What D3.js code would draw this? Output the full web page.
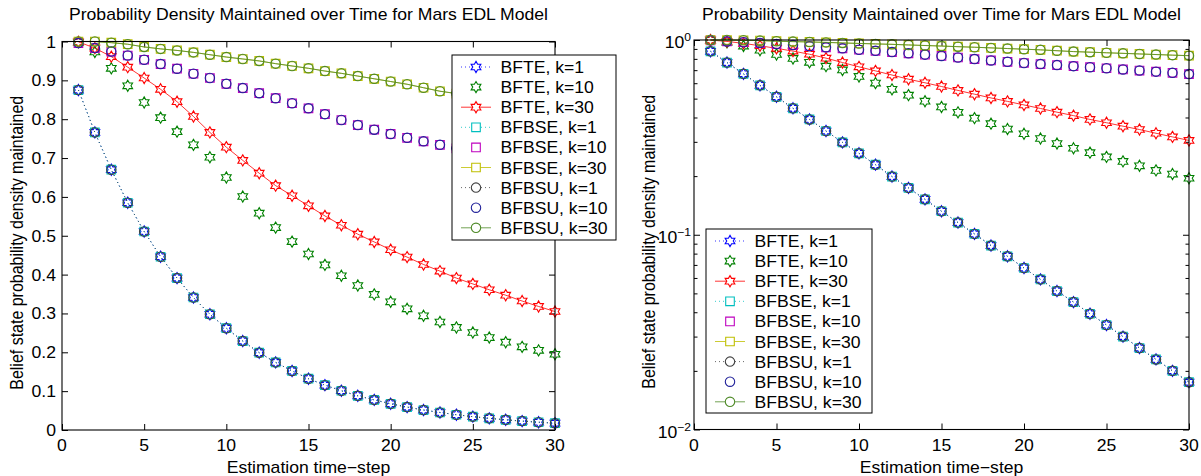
<!DOCTYPE html>
<html><head><meta charset="utf-8">
<script src="https://cdn.jsdelivr.net/npm/d3@7"></script>
<style>
body{margin:0;background:#fff}
svg{display:block}
text{font-family:"Liberation Sans",Arial,Helvetica,sans-serif;fill:#000}
</style>
</head><body>
<svg id="c" width="1201" height="476"></svg>
<script>
// ---------------- data ----------------
const steps = [1,2,3,4,5,6,7,8,9,10,11,12,13,14,15,16,17,18,19,20,21,22,23,24,25,26,27,28,29,30];

const bfteK1  = [0.875,0.766,0.670,0.585,0.511,0.446,0.391,0.341,0.298,0.262,0.229,0.199,0.174,0.152,0.132,0.1155,0.101,0.088,0.0775,0.0675,0.059,0.0514,0.0451,0.0393,0.0344,0.0300,0.0262,0.0229,0.0200,0.0175];
const bfteK10 = [0.998,0.973,0.931,0.886,0.843,0.804,0.768,0.734,0.702,0.650,0.601,0.558,0.521,0.485,0.453,0.425,0.397,0.372,0.349,0.330,0.312,0.294,0.278,0.264,0.251,0.238,0.226,0.214,0.205,0.195];
const bfteK30 = [0.999,0.983,0.961,0.934,0.906,0.877,0.845,0.807,0.766,0.728,0.694,0.661,0.629,0.603,0.577,0.551,0.527,0.504,0.484,0.464,0.445,0.426,0.409,0.391,0.376,0.361,0.347,0.332,0.318,0.305];

const bfbseK1  = [0.875,0.766,0.670,0.585,0.511,0.446,0.391,0.341,0.298,0.262,0.229,0.199,0.174,0.152,0.132,0.1155,0.101,0.088,0.0775,0.0675,0.059,0.0514,0.0451,0.0393,0.0344,0.0300,0.0262,0.0229,0.0200,0.0175];
const bfbseK10 = [0.996,0.983,0.974,0.964,0.953,0.942,0.930,0.917,0.906,0.891,0.880,0.867,0.854,0.841,0.828,0.813,0.798,0.785,0.773,0.762,0.752,0.743,0.734,0.725,0.716,0.706,0.697,0.688,0.678,0.668];
const bfbseK30 = [1.000,1.000,0.997,0.993,0.986,0.981,0.977,0.972,0.966,0.960,0.955,0.950,0.943,0.937,0.931,0.924,0.918,0.911,0.904,0.897,0.890,0.881,0.872,0.866,0.860,0.854,0.848,0.842,0.836,0.831];

const bfbsuK1  = [0.875,0.766,0.670,0.585,0.511,0.446,0.391,0.341,0.298,0.262,0.229,0.199,0.174,0.152,0.132,0.1155,0.101,0.088,0.0775,0.0675,0.059,0.0514,0.0451,0.0393,0.0344,0.0300,0.0262,0.0229,0.0200,0.0175];
const bfbsuK10 = [0.996,0.983,0.974,0.964,0.953,0.942,0.930,0.917,0.906,0.891,0.880,0.867,0.854,0.841,0.828,0.813,0.798,0.785,0.773,0.762,0.752,0.743,0.734,0.725,0.716,0.706,0.697,0.688,0.678,0.668];
const bfbsuK30 = [1.000,1.000,0.997,0.993,0.986,0.981,0.977,0.972,0.966,0.960,0.955,0.950,0.943,0.937,0.931,0.924,0.918,0.911,0.904,0.897,0.890,0.881,0.872,0.866,0.860,0.854,0.848,0.842,0.836,0.831];

const seriesLabels = ["BFTE, k=1","BFTE, k=10","BFTE, k=30","BFBSE, k=1","BFBSE, k=10","BFBSE, k=30","BFBSU, k=1","BFBSU, k=10","BFBSU, k=30"];
const xTicks = [0,5,10,15,20,25,30];
const xTickLabels = ["0","5","10","15","20","25","30"];
const yTicksLin = [0,0.1,0.2,0.3,0.4,0.5,0.6,0.7,0.8,0.9,1];
const yTickLabelsLin = ["0","0.1","0.2","0.3","0.4","0.5","0.6","0.7","0.8","0.9","1"];
const yTicksLog = [0.01,0.1,1];
const yTickExpLog = ["\u22122","\u22121","0"];
const yMinorLog = [0.02,0.03,0.04,0.05,0.06,0.07,0.08,0.09,0.2,0.3,0.4,0.5,0.6,0.7,0.8,0.9];
const titleText = "Probability Density Maintained over Time for Mars EDL Model";
const xLabelText = "Estimation time\u2212step";
const yLabelText = "Belief state probability density maintained";

// ---------------- styles ----------------
const seriesValues = [bfteK1,bfteK10,bfteK30,bfbseK1,bfbseK10,bfbseK30,bfbsuK1,bfbsuK10,bfbsuK30];
const seriesColors = ["#0000ff","#008000","#ff0000","#00bfbf","#bf00bf","#bfbf00","#404040","#22229a","#4f8a28"];
const seriesMarkers = ["hex","hex","hex","square","square","square","circle","circle","circle"];
const seriesLines = ["dot","none","solid","dot","none","solid","dot","none","solid"];

const series = seriesLabels.map((l,i)=>({label:l, values:seriesValues[i], color:seriesColors[i], marker:seriesMarkers[i], line:seriesLines[i]}));

const FS = 16, SX = 1.1;
const svg = d3.select("#c");

const hexType = { draw(ctx, size){ const R = Math.sqrt(size); for(let i=0;i<12;i++){ const a = (-90 + i*30)*Math.PI/180; const r = i%2===0 ? R : R/Math.sqrt(3); const x=r*Math.cos(a), y=r*Math.sin(a); if(i===0) ctx.moveTo(x,y); else ctx.lineTo(x,y);} ctx.closePath(); } };
const squareType = { draw(ctx,size){ const h=Math.sqrt(size)/2; ctx.moveTo(-h,-h); ctx.lineTo(h,-h); ctx.lineTo(h,h); ctx.lineTo(-h,h); ctx.closePath(); } };
const markerPath = {
  hex: d3.symbol().type(hexType).size(5.6*5.6)(),
  square: d3.symbol().type(squareType).size(8.6*8.6)(),
  circle: d3.symbol().type(d3.symbolCircle).size(Math.PI*4.7*4.7)()
};

function htext(g, x, y, str, anchor, size){
  return g.append("text").attr("transform",`translate(${x},${y}) scale(${SX},1)`)
    .attr("text-anchor",anchor||"start").attr("font-size",size||FS).text(str);
}

function drawPanel(opt){
  const g = svg.append("g");
  const x = d3.scaleLinear().domain([0,30]).range([opt.x0,opt.x1]);
  const y = opt.y;
  const [yb,yt] = y.range();

  const ax = (axis, tx, ty) => g.append("g").attr("transform",`translate(${tx},${ty})`).call(axis)
      .call(s=>s.select(".domain").remove()).call(s=>s.selectAll("line").attr("stroke","#000").attr("stroke-width",1));
  ax(d3.axisBottom(x).tickValues(xTicks).tickSize(-6).tickFormat(""), 0, yb);
  ax(d3.axisTop(x).tickValues(xTicks).tickSize(-6).tickFormat(""), 0, yt);
  ax(d3.axisLeft(y).tickValues(opt.yTicks).tickSize(-6).tickFormat(""), opt.x0, 0);
  ax(d3.axisRight(y).tickValues(opt.yTicks).tickSize(-6).tickFormat(""), opt.x1, 0);
  if(opt.yMinor){
    ax(d3.axisLeft(y).tickValues(opt.yMinor).tickSize(-3.5).tickFormat(""), opt.x0, 0);
    ax(d3.axisRight(y).tickValues(opt.yMinor).tickSize(-3.5).tickFormat(""), opt.x1, 0);
  }

  const line = d3.line().x((d,i)=>x(steps[i])).y(d=>y(d));
  series.forEach(s=>{
    if(s.line!=="none"){
      g.append("path").attr("d",line(s.values)).attr("fill","none").attr("stroke",s.color)
       .attr("stroke-width",0.8).attr("stroke-dasharray", s.line==="dot" ? "1,3" : null);
    }
    g.append("g").selectAll("path").data(s.values).join("path")
      .attr("transform",(d,i)=>`translate(${x(steps[i])},${y(d)})`)
      .attr("d",markerPath[s.marker]).attr("fill","none").attr("stroke",s.color).attr("stroke-width",1.1);
  });

  g.append("rect").attr("x",opt.x0).attr("y",yt).attr("width",opt.x1-opt.x0).attr("height",yb-yt)
    .attr("fill","none").attr("stroke","#000").attr("stroke-width",1.1);

  xTicks.forEach((t,i)=>htext(g, x(t), yb+21, xTickLabels[i], "middle"));
  opt.yLabels(g, y);

  htext(g, (opt.x0+opt.x1)/2, 20, titleText, "middle");
  htext(g, (opt.x0+opt.x1)/2, 473, xLabelText, "middle");
  g.append("text").attr("transform",`translate(${opt.ylabX},${(yb+yt)/2 + 7}) rotate(-90) scale(1,${SX})`)
    .attr("text-anchor","middle").attr("font-size",FS).text(yLabelText);

  const L = opt.legend;
  const lg = g.append("g");
  lg.append("rect").attr("x",L.x).attr("y",L.y).attr("width",L.w).attr("height",L.h)
    .attr("fill","#fff").attr("stroke","#000").attr("stroke-width",1);
  series.forEach((s,i)=>{
    const cy = L.y + 12 + i*20.1;
    if(s.line!=="none"){
      lg.append("line").attr("x1",L.x+9).attr("x2",L.x+39).attr("y1",cy).attr("y2",cy)
        .attr("stroke",s.color).attr("stroke-width",0.8).attr("stroke-dasharray", s.line==="dot" ? "1,3" : null);
    }
    lg.append("path").attr("transform",`translate(${L.x+24},${cy})`).attr("d",markerPath[s.marker])
      .attr("fill", s.line==="none" ? "none" : "#fff").attr("stroke",s.color).attr("stroke-width",1.1);
    htext(lg, L.x+48.5, cy+6, s.label, "start");
  });
}

drawPanel({
  x0:62, x1:555,
  y: d3.scaleLinear().domain([0,1]).range([430,41.5]),
  yTicks: yTicksLin,
  ylabX: 23,
  yLabels: (g,y)=>yTicksLin.forEach((t,i)=>htext(g, 56, y(t)+6, yTickLabelsLin[i], "end")),
  legend:{x:452, y:55, w:164, h:185}
});

drawPanel({
  x0:694, x1:1189,
  y: d3.scaleLog().domain([0.01,1]).range([429.5,40]),
  yTicks: yTicksLog,
  yMinor: yMinorLog,
  ylabX: 655,
  yLabels: (g,y)=>yTicksLog.forEach((t,i)=>{
    const tx = g.append("text").attr("transform",`translate(691,${y(t)+8}) scale(${SX},1)`)
      .attr("text-anchor","end").attr("font-size",FS);
    tx.append("tspan").text("10");
    tx.append("tspan").attr("font-size",11).attr("dy",-7).text(yTickExpLog[i]);
  }),
  legend:{x:706, y:229, w:166, h:184}
});
</script>
</body></html>
